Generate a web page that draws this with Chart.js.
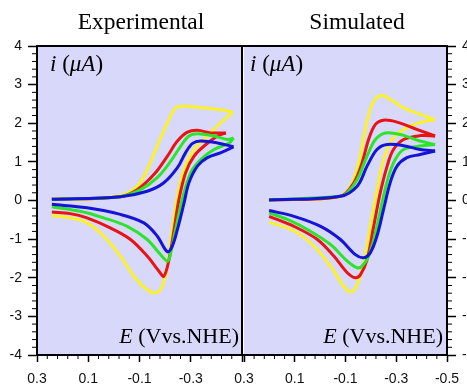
<!DOCTYPE html>
<html lang="en">
<head>
<meta charset="UTF-8">
<title>Experimental vs Simulated CV</title>
<script src="https://cdn.jsdelivr.net/npm/chart.js@4.4.0/dist/chart.umd.min.js"></script>
<style>
  body { margin: 0; background: #fff; }
  #wrap { position: relative; width: 467px; height: 385px; overflow: hidden; }
  canvas { position: absolute; left: 0; top: 0; }
  .lbl { position: absolute; font-family: "Liberation Serif", serif; font-size: 22px; line-height: 22px; color: #000; white-space: nowrap; }
  .ttl { font-size: 23.5px; line-height: 24px; }
  .cur { font-size: 23px; line-height: 23px; }
  .it { font-style: italic; }
</style>
</head>
<body>
<div id="wrap">
  <canvas id="expChart" width="467" height="385"></canvas>
  <canvas id="simChart" width="467" height="385"></canvas>
  <div class="lbl ttl" style="left:41px;top:9px;width:200px;text-align:center">Experimental</div>
  <div class="lbl ttl" style="left:257px;top:9px;width:200px;text-align:center">Simulated</div>
  <div class="lbl cur" style="left:50px;top:52px"><span class="it">i</span> (<span class="it">&mu;A</span>)</div>
  <div class="lbl cur" style="left:250px;top:52px"><span class="it">i</span> (<span class="it">&mu;A</span>)</div>
  <div class="lbl" style="right:228px;top:325px"><span class="it">E</span> (Vvs.NHE)</div>
  <div class="lbl" style="right:24px;top:325px"><span class="it">E</span> (Vvs.NHE)</div>
</div>
<script>
// axis ticks
const xTicks = [-0.5, -0.3, -0.1, 0.1, 0.3];
const xTickLabels = ['-0.5', '-0.3', '-0.1', '0.1', '0.3'];
const yTicks = [-4, -3, -2, -1, 0, 1, 2, 3, 4];

// experimental curves: potential E (V) and current i (uA)
const expYellowE = [0.242, 0.105, -0.025, -0.091, -0.130, -0.169, -0.209, -0.241, -0.273, -0.405, -0.464,
  -0.418, -0.365, -0.312, -0.273, -0.248, -0.228, -0.209, -0.189, -0.163, -0.130, -0.078, -0.025, 0.040, 0.105, 0.171, 0.242];
const expYellowI = [0.03, 0.04, 0.13, 0.37, 0.80, 1.41, 2.01, 2.40, 2.44, 2.36, 2.29,
  2.02, 1.67, 1.32, 0.80, 0.11, -0.75, -1.70, -2.22, -2.39, -2.31, -1.96, -1.44, -0.92, -0.58, -0.45, -0.39];

const expRedE = [0.242, -0.025, -0.091, -0.156, -0.209, -0.248, -0.287, -0.326, -0.378, -0.437,
  -0.405, -0.359, -0.313, -0.280, -0.254, -0.235, -0.215, -0.195, -0.176, -0.130, -0.065, 0.014, 0.105, 0.171, 0.242];
const expRedI = [0.03, 0.10, 0.28, 0.67, 1.15, 1.54, 1.77, 1.82, 1.75, 1.75,
  1.67, 1.45, 1.15, 0.72, 0.03, -0.75, -1.53, -1.96, -1.83, -1.44, -1.01, -0.71, -0.45, -0.34, -0.30];

const expGreenE = [0.242, -0.025, -0.104, -0.169, -0.222, -0.261, -0.293, -0.326, -0.391, -0.444, -0.467,
  -0.450, -0.391, -0.339, -0.300, -0.267, -0.241, -0.222, -0.209, -0.182, -0.130, -0.052, 0.040, 0.131, 0.242];
const expGreenI = [0.03, 0.10, 0.28, 0.59, 1.02, 1.41, 1.67, 1.73, 1.67, 1.58, 1.62,
  1.49, 1.32, 1.06, 0.72, 0.03, -0.75, -1.35, -1.57, -1.40, -1.01, -0.67, -0.45, -0.28, -0.16];

const expBlueE = [0.242, -0.025, -0.130, -0.195, -0.248, -0.280, -0.307, -0.339, -0.405, -0.467,
  -0.418, -0.365, -0.326, -0.293, -0.274, -0.248, -0.228, -0.209, -0.169, -0.117, -0.025, 0.105, 0.242];
const expBlueI = [0.03, 0.10, 0.24, 0.46, 0.85, 1.24, 1.48, 1.54, 1.49, 1.39,
  1.24, 1.11, 0.89, 0.46, -0.06, -0.75, -1.18, -1.33, -0.92, -0.58, -0.36, -0.19, -0.10];

// simulated curves
const simYellowE = [0.201, -0.015, -0.080, -0.120, -0.152, -0.178, -0.205, -0.237, -0.276, -0.329, -0.394, -0.453,
  -0.394, -0.329, -0.283, -0.250, -0.224, -0.198, -0.172, -0.146, -0.124, -0.093, -0.041, 0.024, 0.103, 0.201];
const simYellowI = [0.01, 0.04, 0.11, 0.37, 0.98, 1.84, 2.49, 2.72, 2.62, 2.40, 2.23, 2.09,
  2.02, 1.84, 1.58, 1.06, 0.28, -0.67, -1.62, -2.18, -2.37, -2.22, -1.70, -1.18, -0.79, -0.56];

const simRedE = [0.201, -0.080, -0.133, -0.165, -0.191, -0.218, -0.250, -0.303, -0.381, -0.453,
  -0.394, -0.329, -0.289, -0.264, -0.237, -0.211, -0.185, -0.159, -0.139, -0.107, -0.054, 0.011, 0.103, 0.201];
const simRedI = [0.01, 0.11, 0.46, 0.97, 1.58, 1.97, 2.08, 2.03, 1.84, 1.67,
  1.68, 1.58, 1.32, 0.89, 0.20, -0.67, -1.53, -1.92, -2.00, -1.87, -1.44, -1.01, -0.67, -0.41];

const simGreenE = [0.201, -0.080, -0.107, -0.146, -0.185, -0.218, -0.257, -0.316, -0.394, -0.453,
  -0.394, -0.329, -0.296, -0.270, -0.244, -0.218, -0.191, -0.165, -0.146, -0.107, -0.041, 0.050, 0.129, 0.201];
const simGreenI = [0.01, 0.11, 0.20, 0.54, 1.15, 1.58, 1.75, 1.71, 1.54, 1.45,
  1.41, 1.32, 1.06, 0.63, -0.06, -0.84, -1.44, -1.70, -1.74, -1.57, -1.14, -0.75, -0.49, -0.32];

const simBlueE = [0.201, -0.080, -0.146, -0.185, -0.224, -0.264, -0.329, -0.394, -0.453,
  -0.394, -0.342, -0.303, -0.276, -0.250, -0.224, -0.198, -0.172, -0.139, -0.080, -0.002, 0.103, 0.201];
const simBlueI = [0.01, 0.11, 0.37, 0.89, 1.32, 1.45, 1.42, 1.32, 1.28,
  1.19, 1.11, 0.89, 0.46, -0.23, -0.92, -1.35, -1.48, -1.40, -1.01, -0.67, -0.41, -0.26];

const colors = {
  yellow: 'rgb(250,242,45)',
  red: 'rgb(232,20,20)',
  green: 'rgb(45,228,45)',
  blue: 'rgb(20,20,215)'
};

// split each loop at its switching potential so the vertex stays sharp
function loopSets(E, I, color) {
  const pts = E.map((e, k) => ({ x: e, y: I[k] }));
  const v = E.indexOf(Math.min(...E));
  const common = { borderColor: color, borderWidth: 3, pointRadius: 0, showLine: true, tension: 0.35, fill: false };
  return [
    Object.assign({ data: pts.slice(0, v + 1) }, common),
    Object.assign({ data: pts.slice(v) }, common)
  ];
}

const framePlugin = {
  id: 'frame',
  beforeDraw(chart) {
    const { ctx, chartArea: a } = chart;
    ctx.save();
    ctx.fillStyle = 'rgb(216,216,250)';
    ctx.fillRect(a.left, a.top, a.right - a.left, a.bottom - a.top);
    ctx.restore();
  },
  afterDraw(chart) {
    const { ctx, chartArea: a, scales } = chart;
    const right = chart.options.scales.y.position === 'right';
    ctx.save();
    ctx.strokeStyle = '#000';
    ctx.lineWidth = 1;
    ctx.beginPath();
    // minor ticks
    for (let k = 0; k <= 20; k++) {
      if (k % 5 === 0) continue;
      const px = scales.x.getPixelForValue(-0.5 + k * 0.04);
      ctx.moveTo(px, a.bottom);
      ctx.lineTo(px, a.bottom + 4);
    }
    for (let k = 0; k <= 40; k++) {
      if (k % 5 === 0) continue;
      const py = scales.y.getPixelForValue(-4 + k * 0.2);
      if (right) { ctx.moveTo(a.right, py); ctx.lineTo(a.right + 5, py); }
      else { ctx.moveTo(a.left, py); ctx.lineTo(a.left - 5, py); }
    }
    ctx.stroke();
    // frame: the right panel shares the divider drawn by the left one
    ctx.lineWidth = 2;
    ctx.beginPath();
    if (right) {
      ctx.moveTo(a.left - 1, a.top); ctx.lineTo(a.right, a.top); ctx.lineTo(a.right, a.bottom);
    } else {
      ctx.moveTo(a.left, a.bottom); ctx.lineTo(a.left, a.top); ctx.lineTo(a.right, a.top); ctx.lineTo(a.right, a.bottom);
    }
    ctx.stroke();
    ctx.restore();
  }
};

function makeChart(id, sets, yPos, pad, yWidth, hideLast) {
  return new Chart(document.getElementById(id), {
    type: 'scatter',
    data: { datasets: sets },
    options: {
      responsive: false,
      animation: false,
      layout: { padding: pad },
      plugins: { legend: { display: false }, tooltip: { enabled: false } },
      scales: {
        x: {
          type: 'linear', min: -0.5, max: 0.3, reverse: true,
          afterBuildTicks: s => { s.ticks = xTicks.map(v => ({ value: v })); },
          afterFit: s => { s.height = 30; },
          grid: { drawOnChartArea: false, tickLength: 7, tickWidth: 1.5, tickColor: '#000' },
          border: { color: '#000', width: 2 },
          ticks: {
            color: '#111', padding: 9, maxRotation: 0, autoSkip: false,
            font: { family: 'Liberation Sans', size: 14 },
            callback: val => (hideLast && val === -0.5) ? '' : xTickLabels[xTicks.indexOf(val)]
          }
        },
        y: {
          type: 'linear', min: -4, max: 4, position: yPos,
          afterBuildTicks: s => { s.ticks = yTicks.map(v => ({ value: v })); },
          afterFit: s => { s.width = yWidth; },
          grid: { drawOnChartArea: false, tickLength: 9, tickWidth: 1.5, tickColor: '#000' },
          border: { color: '#000', width: 2 },
          ticks: {
            color: '#111', padding: 6, autoSkip: false,
            font: { family: 'Liberation Sans', size: 14 },
            callback: val => String(val)
          }
        }
      }
    },
    plugins: [framePlugin]
  });
}

const expSets = [].concat(
  loopSets(expBlueE, expBlueI, colors.blue),
  loopSets(expGreenE, expGreenI, colors.green),
  loopSets(expRedE, expRedI, colors.red),
  loopSets(expYellowE, expYellowI, colors.yellow)
);
const simSets = [].concat(
  loopSets(simBlueE, simBlueI, colors.blue),
  loopSets(simGreenE, simGreenI, colors.green),
  loopSets(simRedE, simRedI, colors.red),
  loopSets(simYellowE, simYellowI, colors.yellow)
);

makeChart('expChart', expSets, 'left', { left: 0, top: 46, right: 225, bottom: 0 }, 37, true);
makeChart('simChart', simSets, 'right', { left: 244, top: 46, right: 0, bottom: 0 }, 20, false);
</script>
</body>
</html>
